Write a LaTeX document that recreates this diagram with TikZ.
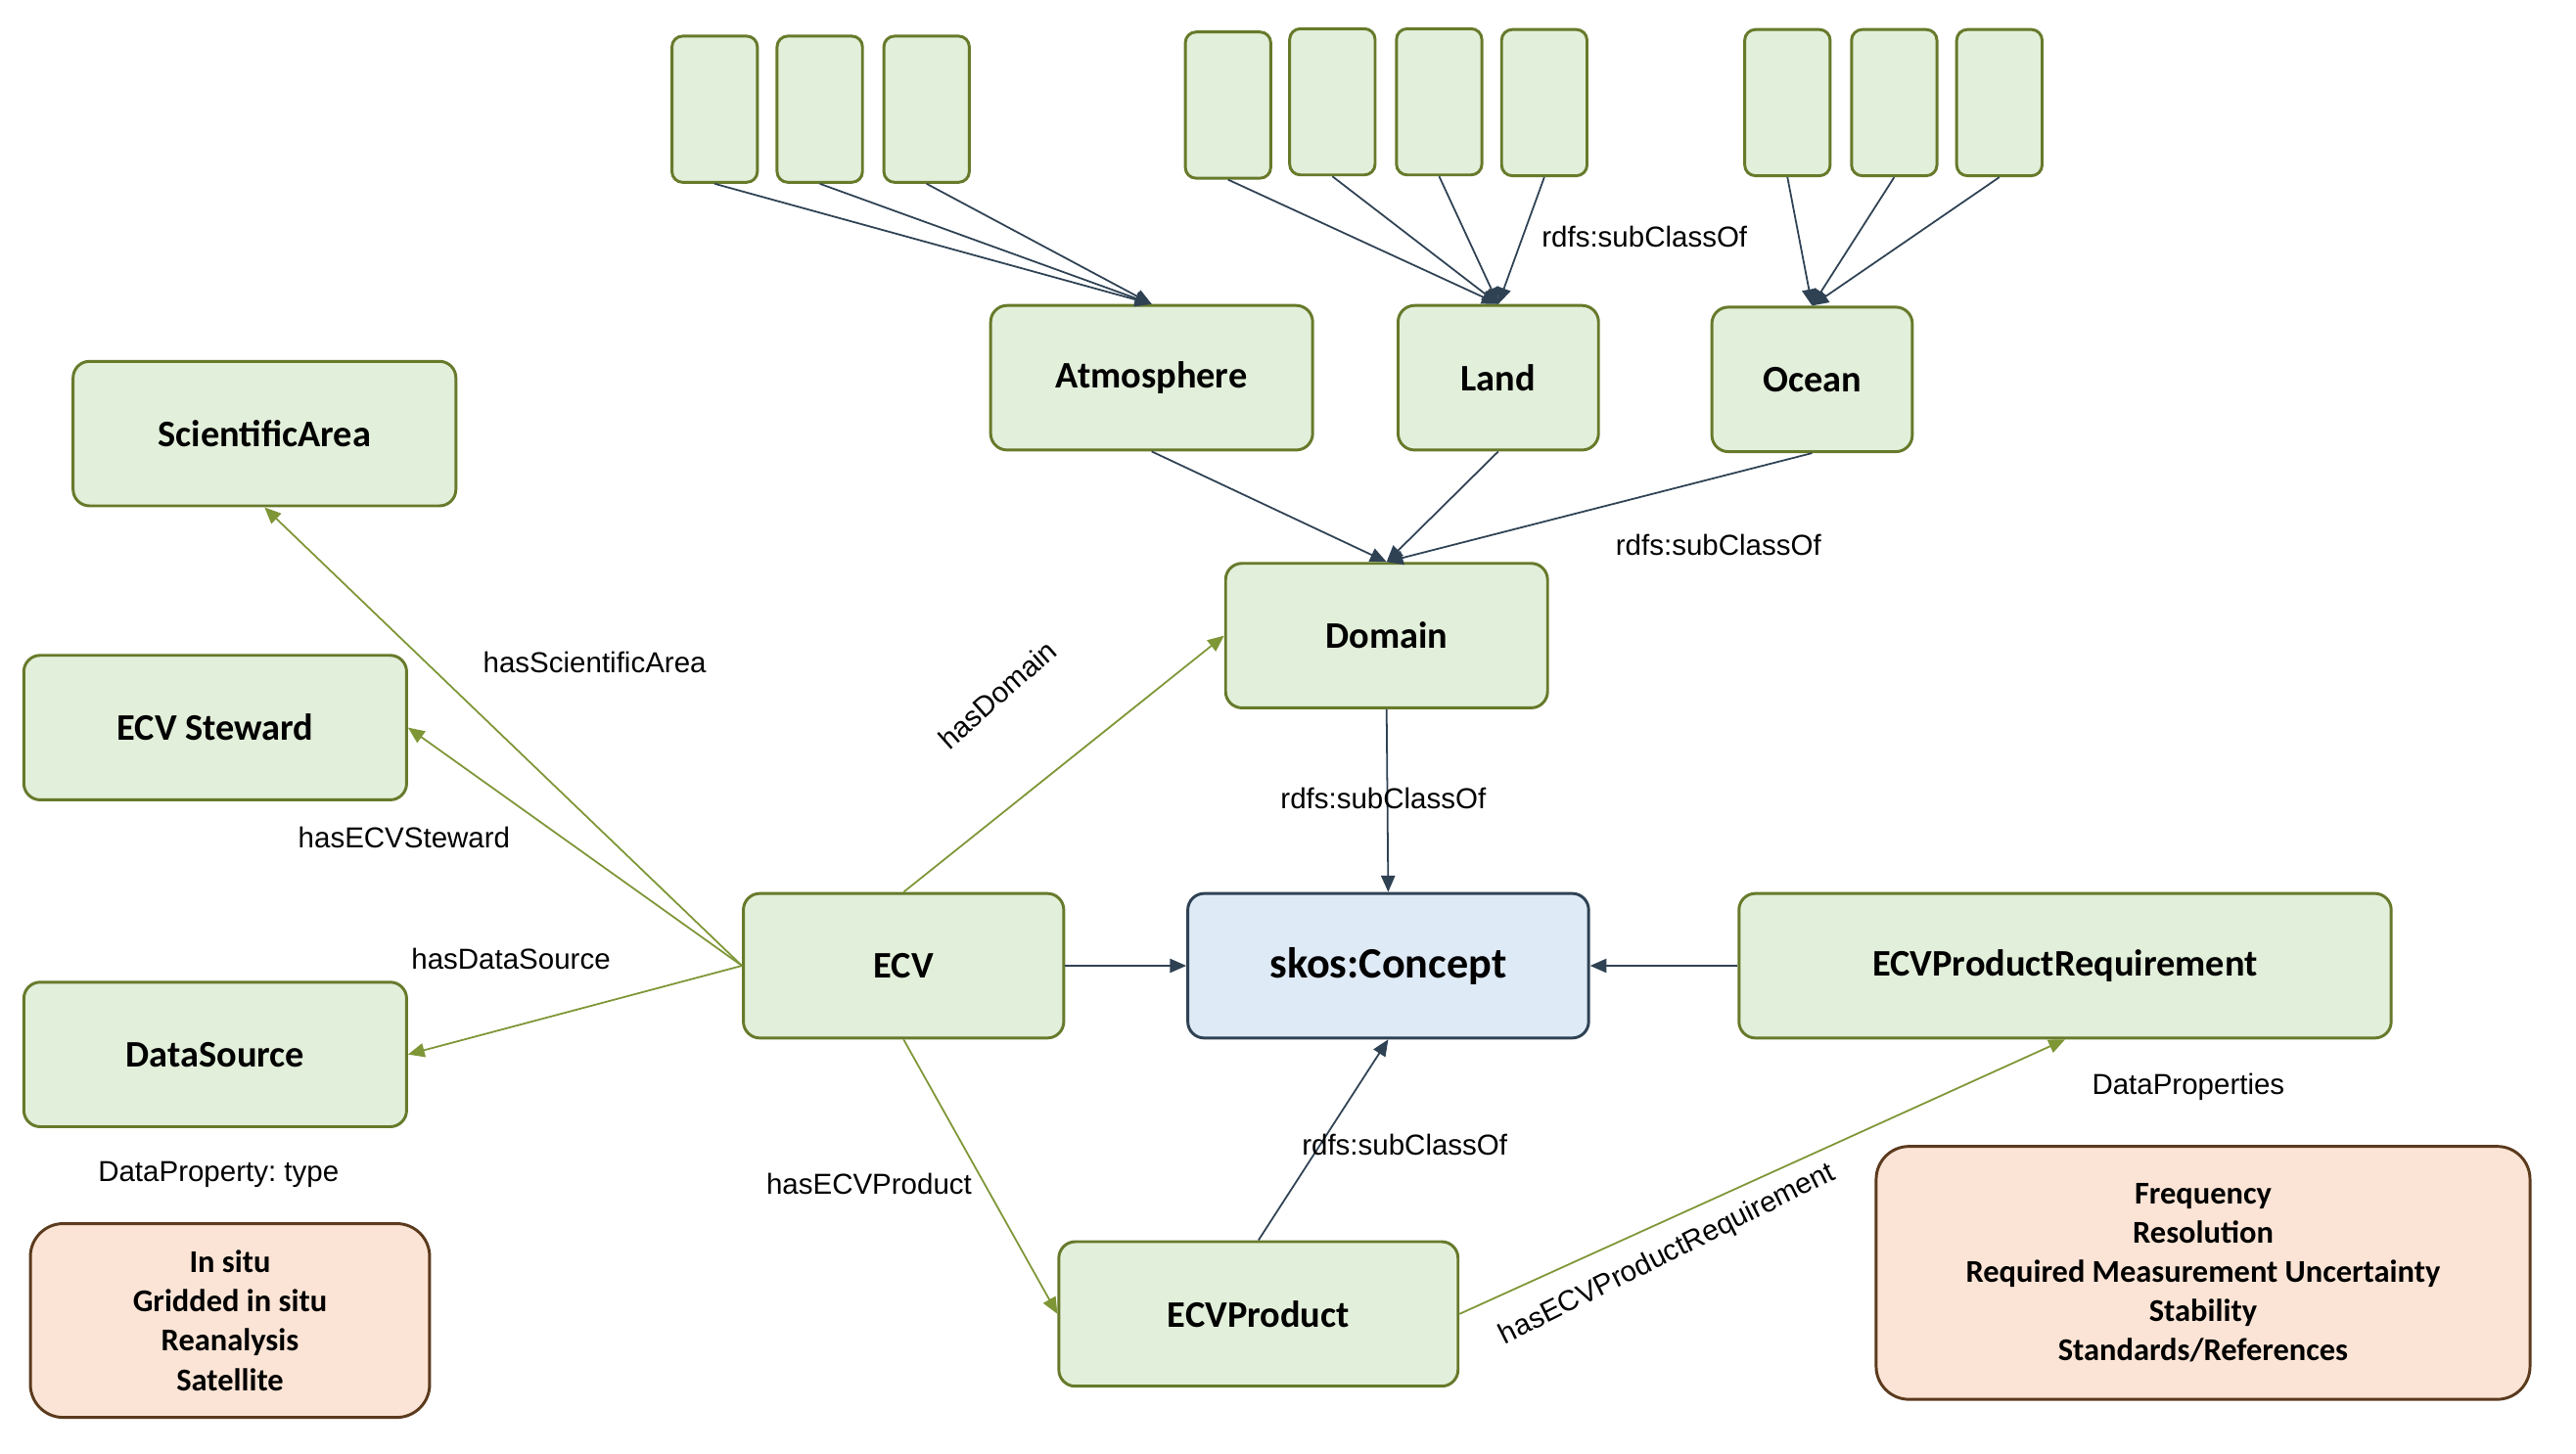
\documentclass[tikz,border=0pt]{standalone}
\usepackage{fontspec}
\setmainfont{Carlito}
\newfontfamily\arialfont{Liberation Sans}
\usetikzlibrary{arrows.meta}
\definecolor{Olive}{HTML}{677A2B}
\definecolor{OliveArr}{HTML}{7E9636}
\definecolor{Leaf}{HTML}{E2EFDA}
\definecolor{Slate}{HTML}{2F4254}
\definecolor{Sky}{HTML}{DEEAF6}
\definecolor{Peach}{HTML}{FBE4D5}
\definecolor{Umber}{HTML}{5B3A1E}
\frenchspacing

\begin{document}
\begin{tikzpicture}[x=0.2mm,y=-0.2mm,>={Triangle[length=2mm,width=1.7mm]},
cls/.style={draw=Olive,line width=1pt,rounded corners=2mm,fill=Leaf,minimum height=17.6mm,inner sep=0pt,font=\fontsize{13}{15}\selectfont\bfseries},
leaf/.style={draw=Olive,line width=1pt,rounded corners=1.3mm,fill=Leaf,minimum width=10.4mm,minimum height=17.8mm,inner sep=0pt},
vals/.style={draw=Umber,line width=1pt,rounded corners=4mm,fill=Peach,align=center,inner sep=0pt,font=\fontsize{11}{13.6}\selectfont\bfseries},
lbl/.style={font=\arialfont\fontsize{10}{12}\selectfont,inner sep=1pt},
sub/.style={->,Slate,line width=0.6pt},
rel/.style={->,OliveArr,line width=0.6pt}]
\useasboundingbox (0,0) rectangle (1568,885);
\node[cls,minimum width=39.2mm] (atm) at (701,230) {Atmosphere};
\node[cls,minimum width=24.4mm] (land) at (912,230) {Land};
\node[cls,minimum width=24.4mm] (ocean) at (1103,231) {Ocean};
\node[cls,minimum width=39.2mm] (dom) at (844,387) {Domain};
\node[cls,minimum width=46.6mm] (sci) at (161,264) {ScientificArea};
\node[cls,minimum width=46.6mm] (stew) at (131,443) {ECV Steward};
\node[cls,minimum width=46.6mm] (dsrc) at (131,642) {DataSource};
\node[cls,minimum width=39mm] (ecv) at (550,588) {ECV};
\node[cls,minimum width=48.8mm,draw=Slate,fill=Sky,font=\fontsize{15}{17}\selectfont\bfseries] (skos) at (845,588) {skos:Concept};
\node[cls,minimum width=79.4mm] (req) at (1257,588) {ECVProductRequirement};
\node[cls,minimum width=48.6mm] (prod) at (766,800) {ECVProduct};
\node[vals,minimum width=48.6mm,minimum height=23.6mm] (types) at (140,804) {In situ\\Gridded in situ\\Reanalysis\\Satellite};
\node[vals,minimum width=79.6mm,minimum height=30.8mm] (props) at (1341,775) {Frequency\\Resolution\\Required Measurement Uncertainty\\Stability\\Standards/References};
\foreach \x/\y [count=\i] in {435/66.5,499/66.5,564/66.5}{\node[leaf] (a\i) at (\x,\y) {};}
\foreach \x/\y [count=\i] in {747.5/64,811/62,876/62,940/62.5}{\node[leaf] (l\i) at (\x,\y) {};}
\foreach \x/\y [count=\i] in {1088/62.5,1153/62.5,1217/62.5}{\node[leaf] (o\i) at (\x,\y) {};}
\foreach \i in {1,2,3}{\draw[sub] (a\i.south)--(atm.north);}
\foreach \i in {1,2,3,4}{\draw[sub] (l\i.south)--(land.north);}
\foreach \i in {1,2,3}{\draw[sub] (o\i.south)--(ocean.north);}
\foreach \u/\v in {atm.south/dom.north,land.south/dom.north,ocean.south/dom.north,dom.south/skos.north,ecv.east/skos.west,req.west/skos.east,prod.north/skos.south}{\draw[sub] (\u)--(\v);}
\foreach \u/\v in {ecv.west/sci.south,ecv.west/stew.east,ecv.west/dsrc.east,ecv.north/dom.west,ecv.south/prod.west,prod.east/req.south}{\draw[rel] (\u)--(\v);}
\node[lbl] (s1) at (1001,144) {rdfs:subClassOf};
\node[lbl] (s2) at (1046,332) {rdfs:subClassOf};
\node[lbl] (s3) at (842,486) {rdfs:subClassOf};
\node[lbl] (s4) at (855,697) {rdfs:subClassOf};
\node[lbl] (hsci) at (362,403) {hasScientificArea};
\node[lbl] (hstew) at (246,510) {hasECVSteward};
\node[lbl] (hdsrc) at (311,584) {hasDataSource};
\node[lbl,rotate=41.6] (hdom) at (607,423) {hasDomain};
\node[lbl] (hprod) at (529,721) {hasECVProduct};
\node[lbl,rotate=26.6] (hreq) at (1015,764) {hasECVProductRequirement};
\node[lbl] (dprops) at (1332,662) {DataProperties};
\node[lbl] (dtype) at (133,715) {DataProperty: type};
\end{tikzpicture}
\end{document}
